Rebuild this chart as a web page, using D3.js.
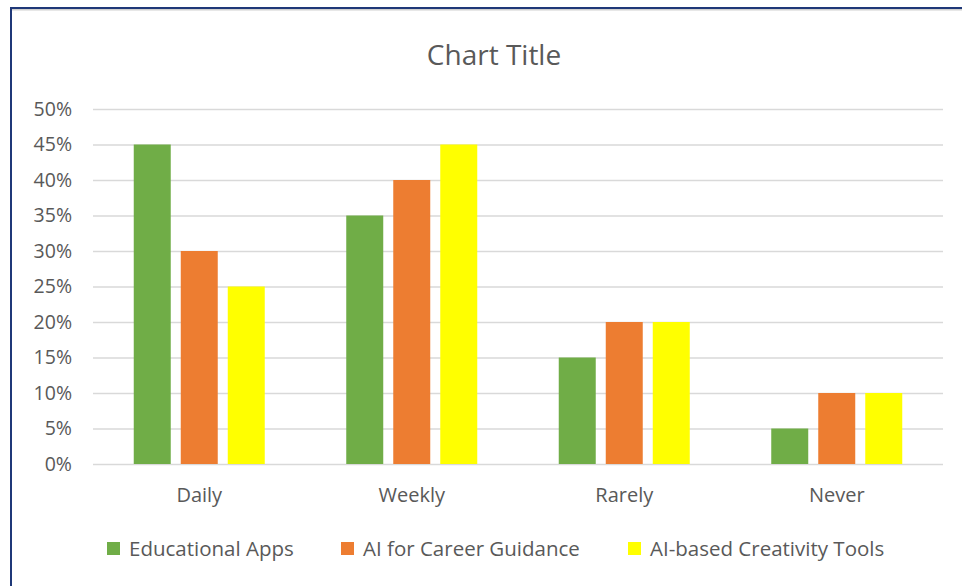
<!DOCTYPE html>
<html><head><meta charset="utf-8">
<script src="https://cdn.jsdelivr.net/npm/d3@7"></script>
<style>body{margin:0;background:#fff;}svg{display:block;font-family:"Open Sans",sans-serif;}</style>
</head><body>
<svg id="c" width="962" height="586"></svg>
<script>
const categories = ["Daily","Weekly","Rarely","Never"];
const seriesNames = ["Educational Apps","AI for Career Guidance","AI-based Creativity Tools"];
const educationalApps = [0.45,0.35,0.15,0.05];
const careerGuidance = [0.30,0.40,0.20,0.10];
const creativityTools = [0.25,0.45,0.20,0.10];
const colors = ["#70ad47","#ed7d31","#ffff00"];
const yTicks = [0,0.05,0.10,0.15,0.20,0.25,0.30,0.35,0.40,0.45,0.50];

const series = [educationalApps, careerGuidance, creativityTools];
const svg = d3.select("#c");
const W = 962, H = 586;
const FONT = "'Open Sans',sans-serif";
const m = {left:93, right:19, top:109, bottom:122};
const x = d3.scaleBand().domain(categories).range([m.left, W-m.right]).paddingInner(0).paddingOuter(0);
const x1 = d3.scaleBand().domain(d3.range(3)).range([0, x.bandwidth()]).paddingInner(0.213).paddingOuter(0.867);
const y = d3.scaleLinear().domain([0,0.5]).range([H-m.bottom, m.top]);

// border
svg.append("line").attr("x1",11).attr("x2",W).attr("y1",9.8).attr("y2",9.8).attr("stroke","#d0d0d0").attr("stroke-width",1.5);
svg.append("line").attr("x1",11).attr("x2",W).attr("y1",8).attr("y2",8).attr("stroke","#1f3878").attr("stroke-width",2);
svg.append("line").attr("x1",11).attr("x2",11).attr("y1",7).attr("y2",H).attr("stroke","#1f3878").attr("stroke-width",2);

// title
svg.append("text").attr("x",494).attr("y",65).attr("text-anchor","middle").attr("font-size",28).attr("fill","#595959").text("Chart Title");

// grid + y axis
const yAxis = d3.axisLeft(y).tickValues(yTicks).tickFormat(d3.format(".0%")).tickSize(-(W-m.left-m.right)).tickPadding(21);
const gy = svg.append("g").attr("transform",`translate(${m.left},0)`).call(yAxis);
gy.select(".domain").remove();
gy.selectAll(".tick line").attr("stroke","#d9d9d9").attr("stroke-width",1.5);
gy.selectAll(".tick text").attr("fill","#595959").attr("font-size",19.5).attr("font-family",FONT);

// x axis
const gx = svg.append("g").attr("transform",`translate(0,${H-m.bottom})`).call(d3.axisBottom(x).tickSize(0).tickPadding(24));
gx.select(".domain").remove();
gx.selectAll(".tick text").attr("fill","#595959").attr("font-size",20).attr("font-family",FONT);

// bars
series.forEach((vals,si)=>{
  svg.append("g").selectAll("rect").data(vals).join("rect")
    .attr("x",(d,i)=>x(categories[i])+x1(si))
    .attr("width",x1.bandwidth())
    .attr("y",d=>y(d))
    .attr("height",d=>y(0)-y(d))
    .attr("fill",colors[si]);
});

// legend
const legX = [107, 341, 628];
const lg = svg.append("g");
seriesNames.forEach((n,i)=>{
  lg.append("rect").attr("x",legX[i]).attr("y",542).attr("width",13).attr("height",13).attr("fill",colors[i]);
  lg.append("text").attr("x",legX[i]+22).attr("y",556).attr("font-size",20.5).attr("fill","#595959").text(n);
});
</script>
</body></html>
